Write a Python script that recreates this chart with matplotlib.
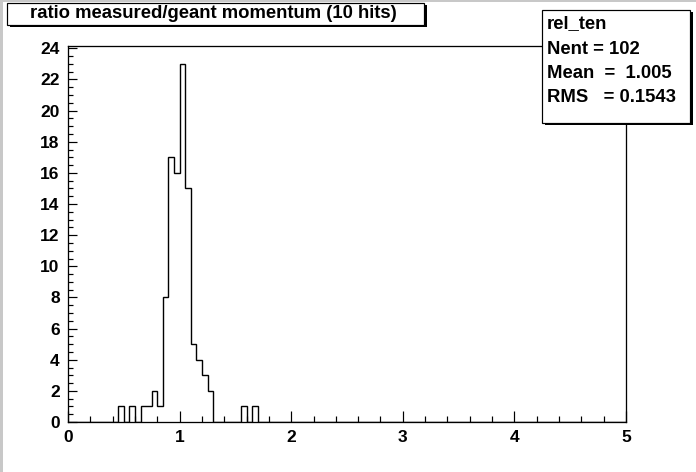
import numpy as np
import matplotlib
matplotlib.use("Agg")
import matplotlib.pyplot as plt
from matplotlib.patches import Rectangle
from matplotlib.ticker import MultipleLocator

# ---- data ----
bin_low = [0.45, 0.55, 0.65, 0.70, 0.75, 0.80, 0.85, 0.90, 0.95, 1.00,
           1.05, 1.10, 1.15, 1.20, 1.25, 1.55, 1.65]
bin_counts = [1, 1, 1, 1, 2, 1, 8, 17, 16, 23, 15, 5, 4, 3, 2, 1, 1]
n_bins = 100
x_range = (0.0, 5.0)
title = "ratio measured/geant momentum (10 hits)"
stats_lines = ["rel_ten", "Nent = 102", "Mean  =  1.005", "RMS   = 0.1543"]

W, H = 696, 472
DPI = 100
PX = 72.0 / DPI  # points per pixel

plt.rcParams['font.family'] = ['Liberation Sans', 'DejaVu Sans']

fig = plt.figure(figsize=(W / DPI, H / DPI), dpi=DPI, facecolor='white')

# light gray canvas border (top and left)
fig.patches.append(Rectangle((0, 1 - 2 / H), 1, 2 / H, transform=fig.transFigure,
                             facecolor='#c8c8c8', edgecolor='none'))
fig.patches.append(Rectangle((0, 0), 3 / W, 1, transform=fig.transFigure,
                             facecolor='#c8c8c8', edgecolor='none'))

# frame in pixels
fl, fr, ft, fb = 68, 626, 46, 422
ax = fig.add_axes([fl / W, (H - fb) / H, (fr - fl) / W, (fb - ft) / H])

edges = np.linspace(x_range[0], x_range[1], n_bins + 1)
width = (x_range[1] - x_range[0]) / n_bins
hist = np.zeros(n_bins)
for lo, c in zip(bin_low, bin_counts):
    hist[int(round((lo - x_range[0]) / width))] = c

ax.stairs(hist, edges, color='black', linewidth=1.4 * PX, baseline=0)

ymax = 1.05 * max(bin_counts)
ax.set_xlim(*x_range)
ax.set_ylim(0, ymax)

ax.xaxis.set_major_locator(MultipleLocator(1))
ax.xaxis.set_minor_locator(MultipleLocator(0.2))
ax.yaxis.set_major_locator(MultipleLocator(2))
ax.yaxis.set_minor_locator(MultipleLocator(0.5))

for s in ax.spines.values():
    s.set_linewidth(1.3 * PX)
    s.set_color('black')

ax.tick_params(axis='x', which='major', direction='in', length=11 * PX, width=1.2 * PX,
               pad=6, labelsize=12.5)
ax.tick_params(axis='x', which='minor', direction='in', length=6 * PX, width=1.2 * PX)
ax.tick_params(axis='y', which='major', direction='in', length=9 * PX, width=1.2 * PX,
               pad=6, labelsize=12.5)
ax.tick_params(axis='y', which='minor', direction='in', length=5 * PX, width=1.2 * PX)
for lab in ax.get_xticklabels() + ax.get_yticklabels():
    lab.set_fontweight('bold')


def box(x0, y0, x1, y1):
    # shadow
    fig.patches.append(Rectangle(((x0 + 3) / W, (H - y1 - 2) / H), (x1 - x0) / W, (y1 - y0) / H,
                                 transform=fig.transFigure, facecolor='black',
                                 edgecolor='black', linewidth=0, zorder=5))
    fig.patches.append(Rectangle((x0 / W, (H - y1) / H), (x1 - x0) / W, (y1 - y0) / H,
                                 transform=fig.transFigure, facecolor='white',
                                 edgecolor='black', linewidth=1.2 * PX, zorder=6))


# title box
box(7, 3, 424, 25)
fig.text((7 + 424) / 2 / W - 2 / W, 1 - 14 / H, title, ha='center', va='center',
         fontsize=13.3, fontweight='bold', zorder=10)

# stats box
box(542, 10, 690, 123)
ys = [24, 49, 73, 97]
for t, yy in zip(stats_lines, ys):
    fig.text(547 / W, 1 - yy / H, t, ha='left', va='center',
             fontsize=13.3, fontweight='bold', zorder=10)

fig.savefig("out.png", dpi=DPI, facecolor='white')
